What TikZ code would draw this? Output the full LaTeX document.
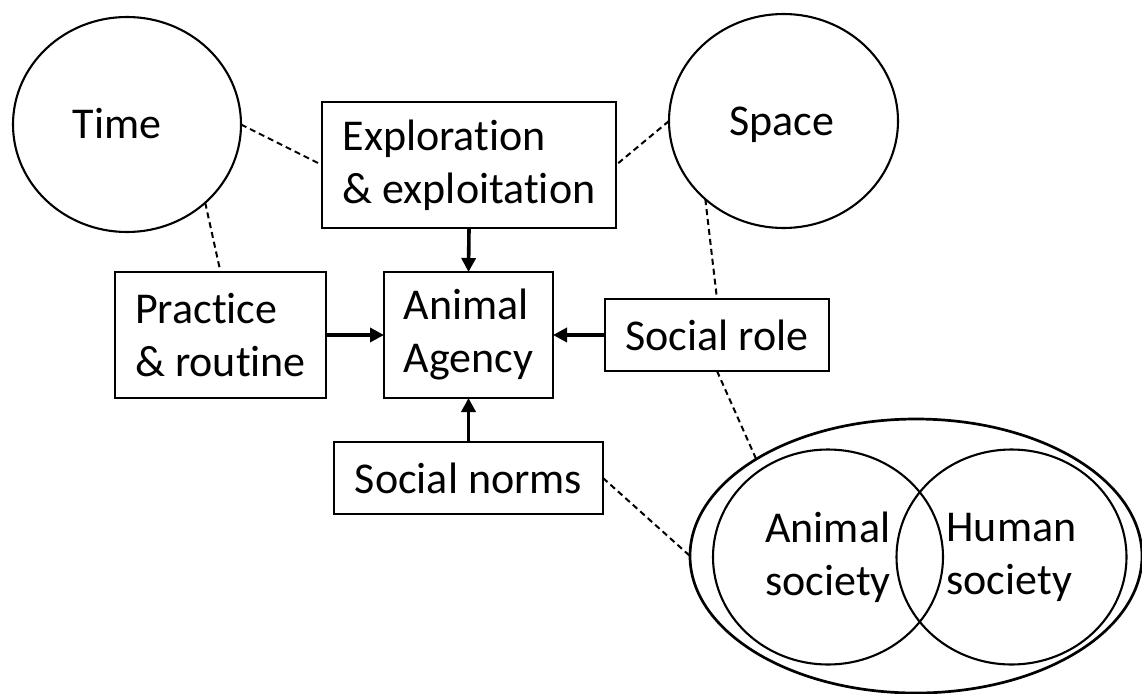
\documentclass[tikz,border=0pt]{standalone}
\usepackage{fontspec}
\setmainfont{Carlito}[Ligatures=CommonOff]
\usetikzlibrary{shapes.geometric,arrows.meta}
\begin{document}
\begin{tikzpicture}[x=1pt,y=-1pt,
  txt/.style={font=\fontsize{44}{53}\selectfont},
  box/.style={txt,draw,line width=2.6pt,inner sep=0pt,outer sep=0pt,align=left},
  ell/.style={txt,draw,ellipse,line width=2.1pt,inner sep=0pt,outer sep=0pt,align=left},
  arr/.style={line width=3.6pt,-{Triangle[length=14pt,width=14pt]}},
  dsh/.style={line width=2pt,dash pattern=on 6pt off 4pt}]
\useasboundingbox (0,0) rectangle (1142,693);
% circles
\node[ell,minimum width=228pt,minimum height=215pt] (time) at (127,124.5) {};
\node[txt,anchor=base] (timelbl) at (117,138) {Time};
\node[ell,minimum width=229pt,minimum height=214pt] (space) at (783.5,121) {};
\node[txt,anchor=base] (spacelbl) at (782,135) {Space};
% boxes
\node[box,minimum width=294pt,minimum height=126pt] (expl) at (469,165) {Exploration\\\& exploitation};
\node[box,minimum width=211pt,minimum height=126pt] (prac) at (220.5,335) {Practice\\\& routine};
\node[box,minimum width=169pt,minimum height=126pt] (agency) at (468.5,335) {Animal\\Agency};
\node[box,minimum width=224pt,minimum height=72pt] (role) at (717,335) {Social role};
\node[box,minimum width=269pt,minimum height=72pt] (norms) at (468.5,478) {Social norms};
% society
\node[ell,line width=2.7pt,minimum width=452pt,minimum height=274pt] (soc) at (916,556) {};
\node[ell,minimum width=230pt,minimum height=215pt] (anim) at (828,557) {Animal\\society};
\node[ell,minimum width=230pt,minimum height=215pt] (hum) at (1011.5,557) {Human\\society};
% arrows
\draw[arr] (expl.south) -- (agency.north);
\draw[arr] (prac.east) -- (agency.west);
\draw[arr] (role.west) -- (agency.east);
\draw[arr] (norms.north) -- (agency.south);
% dashed links
\draw[dsh] (time.east) -- (expl.west);
\draw[dsh] (time.-45) -- (prac.north);
\draw[dsh] (space.west) -- (expl.east);
\draw[dsh] (space.-135) -- (role.north);
\draw[dsh] (role.south) -- (soc.north west);
\draw[dsh] (norms.east) -- (soc.west);
\end{tikzpicture}
\end{document}
